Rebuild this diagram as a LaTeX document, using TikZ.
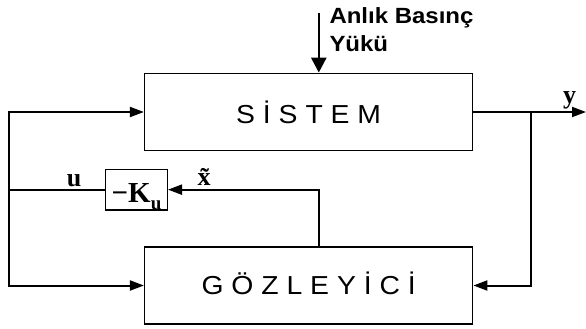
\documentclass[tikz,border=0pt]{standalone}
\usepackage{fontspec}
\usetikzlibrary{arrows.meta}
\newfontfamily\blocktext[FakeStretch=1.09]{Liberation Sans}
\newfontfamily\symtext{Liberation Serif}

\begin{document}
\begin{tikzpicture}[x=1pt,y=-1pt,
  block/.style={draw, line width=1.4pt, inner sep=0pt, minimum width=328.1pt,
    font=\blocktext\fontsize{26}{30}\selectfont},
  gainbox/.style={draw, line width=1.4pt, inner sep=0pt, minimum width=61.6pt,
    text height=33.4pt, text depth=7.3pt,
    font=\symtext\bfseries\fontsize{29}{32}\selectfont},
  wire/.style={line width=2pt, line join=miter},
  tip/.style={-{Triangle[length=14pt,width=10pt]}},
  sym/.style={font=\symtext\bfseries\fontsize{26}{30}\selectfont, inner sep=0pt, anchor=base},
  loadtext/.style={font=\blocktext\bfseries\fontsize{22}{26}\selectfont, inner sep=0pt, anchor=base west},
]
\useasboundingbox (0,0) rectangle (586,329);

% blocks
\node[block, text height=50pt, text depth=27.4pt] (sis) at (308.65,112) {S İ S T E M};
\node[block, text height=47.3pt, text depth=29.7pt] (goz) at (308.65,285.5) {G Ö Z L E Y İ C İ};
\node[gainbox] (ku) at (136.5,189.65) {−K\raisebox{-7pt}{\fontsize{19}{19}\selectfont u}};

% helper points
\coordinate (lu) at (9.3,112);
\coordinate (ll) at (9.3,285.5);
\coordinate (tap) at (318.8,13.5);
\coordinate (split) at (530.7,112);
\coordinate (yend) at (586,112);

% control signal to plant and observer
\draw[wire,tip] (ll) |- (sis.west);
\draw[wire,tip] (lu) |- (goz.west);
\draw[wire] (ku.west) -- (ku.west -| lu);

% plant output and feedback to observer
\draw[wire,tip] (sis.east) -- (yend);
\draw[wire,tip] (split) |- (goz.east);

% estimated state to the gain
\draw[wire,tip] (goz.north -| tap) |- (ku.east);

% disturbance input
\draw[line width=2.6pt, -{Triangle[length=15pt,width=15pt]}] (tap) -- (tap |- sis.north);

% labels
\node[sym] (ulab) at (74.2,186.5) {u};
\node[sym] (xlab) at (204.2,185.5) {\~x};
\node[sym] (ylab) at (569.7,103.3) {y};
\node[loadtext] (load1) at (329.3,23.3) {Anlık Basınç};
\node[loadtext] (load2) at (329.3,52) {Yükü};
\end{tikzpicture}
\end{document}
